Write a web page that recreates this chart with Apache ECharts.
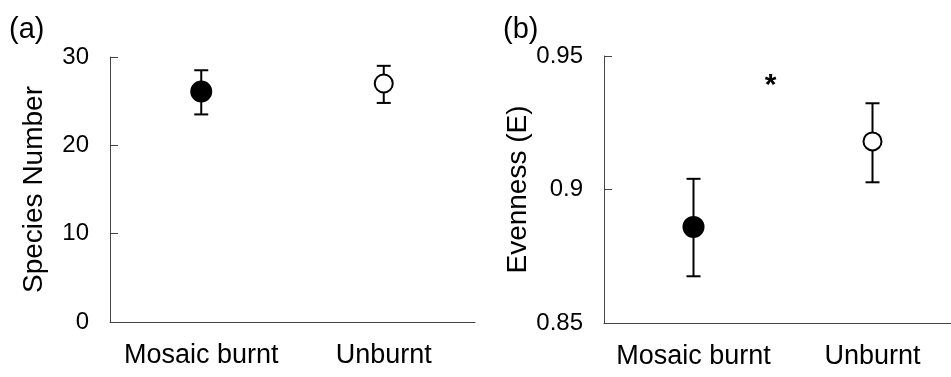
<!DOCTYPE html>
<html>
<head>
<meta charset="utf-8">
<script src="https://cdn.jsdelivr.net/npm/echarts@6/dist/echarts.min.js"></script>
<style>
html,body{margin:0;padding:0;background:#fff;overflow:hidden;width:951px;height:377px;}
#chart{width:962px;height:377px;}
</style>
</head>
<body>
<div id="chart"></div>
<script>
// ---- data ----
const categories = ['Mosaic burnt', 'Unburnt'];
// Panel (a): species number
const speciesMean  = [26.1, 27.0];
const speciesLower = [23.5, 24.8];
const speciesUpper = [28.5, 29.0];
const speciesTicks = [0, 10, 20, 30];
// Panel (b): evenness
const evenMean  = [0.886, 0.918];
const evenLower = [0.8675, 0.9027];
const evenUpper = [0.904, 0.9323];
const evenTicks = [0.85, 0.9, 0.95];
// significance annotation in panel (b): position between categories, value
const starLabel = '*';
const starPos = [0.43, 0.9388];
const markerFill = ['#000000', '#ffffff'];

const FONT = 'Liberation Sans, Arial, sans-serif';
const axisColor = '#444';

function makeRows(mean, lo, hi) {
  return mean.map((m, i) => [i, m, lo[i], hi[i]]);
}

function errRender(params, api) {
  const i = api.value(0);
  const pm = api.coord([i, api.value(1)]);
  const pl = api.coord([i, api.value(2)]);
  const ph = api.coord([i, api.value(3)]);
  const cap = 7;
  const ls = { stroke: '#000', lineWidth: 2 };
  return {
    type: 'group',
    children: [
      { type: 'line', shape: { x1: pm[0], y1: ph[1], x2: pm[0], y2: pl[1] }, style: ls },
      { type: 'line', shape: { x1: pm[0] - cap, y1: ph[1], x2: pm[0] + cap, y2: ph[1] }, style: ls },
      { type: 'line', shape: { x1: pm[0] - cap, y1: pl[1], x2: pm[0] + cap, y2: pl[1] }, style: ls },
      { type: 'circle', shape: { cx: pm[0], cy: pm[1], r: i === 0 ? 10 : 9 },
        style: { fill: markerFill[i], stroke: '#000', lineWidth: 2 } }
    ]
  };
}

function starRender(params, api) {
  const y = api.value(1);
  const p0 = api.coord([0, y]);
  const p1 = api.coord([1, y]);
  const f = api.value(0);
  return {
    type: 'text',
    style: {
      text: starLabel, x: p0[0] + f * (p1[0] - p0[0]), y: p0[1],
      align: 'center', verticalAlign: 'middle',
      font: 'bold 30px ' + FONT, fill: '#000'
    }
  };
}

function yAxisCfg(gridIndex, name, ticks, gap) {
  return {
    type: 'value', gridIndex,
    min: ticks[0], max: ticks[ticks.length - 1], interval: ticks[1] - ticks[0],
    name, nameLocation: 'middle', nameGap: gap, nameRotate: 90,
    nameTextStyle: { fontFamily: FONT, fontSize: 28, color: '#000' },
    axisLine: { show: true, lineStyle: { color: axisColor, width: 1 } },
    axisTick: { show: true, inside: true, length: 8, lineStyle: { color: axisColor } },
    axisLabel: { fontFamily: FONT, fontSize: 24, color: '#000', margin: 21,
      formatter: v => String(+v.toFixed(4)) },
    splitLine: { show: false }
  };
}
function xAxisCfg(gridIndex) {
  return {
    type: 'category', gridIndex, data: categories, boundaryGap: true,
    axisLine: { show: true, lineStyle: { color: axisColor, width: 1 } },
    axisTick: { show: false },
    axisLabel: { fontFamily: FONT, fontSize: 27, color: '#000', margin: 20, interval: 0 },
    splitLine: { show: false }
  };
}

const chart = echarts.init(document.getElementById('chart'), null, { renderer: 'canvas' });
chart.setOption({
  animation: false,
  backgroundColor: '#fff',
  title: [
    { text: '(a)', left: 4, top: 10, textStyle: { fontFamily: FONT, fontSize: 29, fontWeight: 'normal', color: '#000' } },
    { text: '(b)', left: 498, top: 10, textStyle: { fontFamily: FONT, fontSize: 29, fontWeight: 'normal', color: '#000' } }
  ],
  grid: [
    { left: 110, top: 57, width: 365, height: 265 },
    { left: 604, top: 56, width: 358, height: 267 }
  ],
  xAxis: [xAxisCfg(0), xAxisCfg(1)],
  yAxis: [yAxisCfg(0, 'Species Number', speciesTicks, 62), yAxisCfg(1, 'Evenness (E)', evenTicks, 71)],
  series: [
    { type: 'custom', xAxisIndex: 0, yAxisIndex: 0, renderItem: errRender,
      encode: { x: 0, y: [1, 2, 3] }, data: makeRows(speciesMean, speciesLower, speciesUpper) },
    { type: 'custom', xAxisIndex: 1, yAxisIndex: 1, renderItem: errRender,
      encode: { x: 0, y: [1, 2, 3] }, data: makeRows(evenMean, evenLower, evenUpper) },
    { type: 'custom', xAxisIndex: 1, yAxisIndex: 1, renderItem: starRender,
      encode: { x: 0, y: 1 }, data: [starPos], clip: false }
  ]
});
</script>
</body>
</html>
